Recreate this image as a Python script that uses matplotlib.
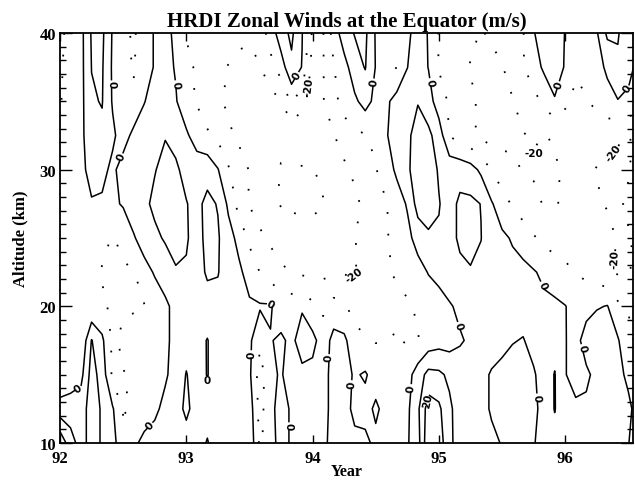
import numpy as np
import matplotlib
matplotlib.use("Agg")
import matplotlib.pyplot as plt
from matplotlib.ticker import FixedLocator, FixedFormatter, MultipleLocator

plt.rcParams['font.family'] = ['Liberation Serif', 'DejaVu Serif']
plt.rcParams['font.weight'] = 'bold'

# Monthly sampling in years (92.0 = Jan 1992) and 2.5 km altitude levels
years = 92 + np.arange(56) / 12.0
altitudes = [10.0, 12.5, 15.0, 17.5, 20.0, 22.5, 25.0, 27.5, 30.0, 32.5, 35.0, 37.5, 40.0]

# Zonal wind (m/s), one list per altitude level
u_10_0 = [28, 14, 6, 14, 9, 3, -6, -1.5, 2, 3, 4, 4, 6, 3, -0.5, 4, 4, 4, 8, -12, -3, 3, -1, -3, -4, -2, 3, 3, 2, 2,
          -2, -4, -4, -1, 6, 28, 25, 13, 4, 3, 3, 2, -0.5, -4, -4, -0.5, 3, 6, 4, 3, 3, 4, 5, 5, 0.3, -5]
u_12_5 = [4, 5, 6, 14, 9, 1, -11, -9, -4, -1.5, 2, 6, 12, 6, 3, 5, 5, 4, 6, -14, -2, 3, -1, -4, -5, -3, 3, 3, -2, -3,
          1.5, -3, -3, -2, 8, 25, 22, 12, 5, 4, 3, -1, -5, -5, -5, -2, 3, 10.5, 3, 2, 2, 4, 6, 6, 3, -6]
u_15_0 = [-8, -6, -3, 14, 6, -12, -10.5, -8, -5, -3, -1, 3, 10.5, 5, -0.5, 6, 6, 5, 2, -15, -2, 1, -5, -2, -3, -4, 4, 3,
          -1, 1, -4, -4, -5, -4, 5, 13, 12, 8, 5, 4, 3, -1, -4, -4, -4, -1, 4, 10.5, 0.5, -4, -2, 3, 6, 4, -3, -11]
u_17_5 = [-4, -5, -9, 10.5, 2, -12, -8, -6, -8, -6, -2, 3, 6, 4, -0.5, 6, 6, 5, 2, -8, -0.5, 1.5, -2, 4, 3, -5, 3, 2,
          -6, -9, -10.5, -10.5, -9, -11, -10.5, -6, -4, -4, -1, 1.5, 4, 5, 4, 0.5, -0.5, 3, 5, 6, 0.5, -4, 5, 8, 8, 1,
          -8, -12]
u_20_0 = [-3, -4, -6, -9, -9, -11, -11, -11, -10.5, -6, -2, 3, 6, 6, 7, 7, 6, 4, 1.5, 1, 1, -5, -4, -1, -8, -12, -6, -8,
          -15, -14, -13, -12, -12, -11, -9, -6, -4, -1, 2, 5, 6, 6, 5, 4, 4, 3, 2, 1.5, 0.3, -3, -4, -1, 0.5, -8, -10.5,
          -12]
u_22_5 = [-4, -5, -6, -8, -10.5, -11, -11, -10.5, -4, 1, 5, 9, 9.5, 7, 11, 10.5, 5, 2, -4, -10.2, -14, -18, -20.5, -22,
          -22, -22, -22, -21, -20.5, -17, -14, -11, -9, -7, -4, 0.5, 3, 6, 8, 9.5, 8, 5, 4, 3, 3, 0.8, -2, -4, -8, -10.5,
          -12, -15, -18, -21, -20.5, -18]
u_25_0 = [-4, -4, -5, -6, -8, -10.5, -8, -1, 5, 8, 11, 14, 10.5, 8, 11.5, 11, 4, -3, -12, -18, -22, -25, -27, -28, -28,
          -27, -25, -23, -20.5, -16, -12, -10.5, -8, -3, 4, 8, 9, 7, 11.5, 12, 10.2, 4, 2, -1, -5, -9, -13, -15, -14,
          -13, -13, -15, -18, -20.5, -20.5, -19]
u_27_5 = [-5, -4, -3, -1, -1.5, -2, 1, 6, 8, 12, 15, 14, 10.3, 8, 12, 9.5, -2, -14, -20.5, -25, -28, -30.5, -31, -31,
          -31, -30.5, -28, -25, -22, -18, -14, -10.5, -5, 1, 14, 16, 10.5, 6, 12, 12, 9.8, 1, -6, -11, -15, -18, -20.5,
          -20.5, -19, -18, -18, -19, -20.5, -21, -19, -17]
u_30_0 = [-7, -5, -3, 4, 3, -2.5, 5, 8, 9, 9.5, 13, 11, 8, 7, 7, 0.5, -9, -15, -20.5, -25, -28, -30.5, -30.5, -30.5,
          -30.5, -28, -25, -22, -18, -14, -10.5, -5, 2, 8, 16, 15, 9, 7, 6, 4, -2, -10.5, -15, -18, -20.5, -21, -22, -21,
          -19, -18, -18, -20.5, -21, -22, -20.5, -18]
u_32_5 = [-9, -6, -3, 8, 8, 2, -5, 3, 6, 8, 9.5, 8, 2, -6, -9, -12, -18, -22, -25, -27, -28, -28, -27, -26, -26, -24,
          -20.5, -15, -12, -10.5, -8, -1, 6, 8, 14, 12, 6, -10.5, -14, -18, -22, -24, -24, -22, -20.5, -19, -20.5, -19,
          -17, -15, -14, -15, -17, -19, -20.5, -18]
u_35_0 = [-10.5, -7, -3, 9, 10.5, -1, -8, -9, -0.5, 5, 6, 1, -8, -10.5, -14, -18, -22, -24, -25, -25, -24, -20.5, -8,
          -18, -23, -20.5, -13, -6, -2, 4, -3, -2, 4, 6, 9.5, 5, -6, -11, -15, -18, -22, -23, -22, -20.5, -16, -13, -8,
          -0.5, -8, -12, -10.5, -8, -3, -0.5, -2, -5]
u_37_5 = [-11, -7, -3, 10.2, 11, -1.5, -8, -10.5, -6, 1, 4, -1, -8, -11, -15, -17, -20.5, -22, -22, -20.5, -13, -5, 8,
          -0.5, -24, -20.5, -10.5, -4, 6, 10.5, -0.5, -9, -10.5, -0.2, 6, -0.3, -10.5, -14, -17, -20.5, -22, -22, -20.5,
          -16, -10.5, -5, 2, 3, -0.5, -9, -8, -3, 1.5, 8, 3, -3]
u_40_0 = [-12, -7, -3, 11, 12, -1, -8, -11, -6, 1, 4, -3, -10.5, -13, -14, -13, -15, -18, -19, -15, -6, 6, 12, 0.5, -22,
          -20.5, -6, 6, 10.5, 12, -1, -8, -8, -2, 4, -0.5, -10.5, -14, -16, -18, -20.5, -19, -16, -14, -10.5, -0.5, 4, 4,
          -0.3, -8, -6, -1, 12, 11, 3, -3]

wind = np.array([u_10_0, u_12_5, u_15_0, u_17_5, u_20_0, u_22_5, u_25_0,
                 u_27_5, u_30_0, u_32_5, u_35_0, u_37_5, u_40_0])

year_ticks = [92, 93, 94, 95, 96]
year_labels = ["92", "93", "94", "95", "96"]
alt_ticks = [10, 20, 30, 40]
alt_labels = ["10", "20", "30", "40"]

# where the contour labels sit (year, km)
zero_label_at = [(92.41, 36.27), (92.91, 36.27), (92.49, 30.93), (92.16, 13.81), (92.70, 11.40),
                 (93.13, 14.25), (93.53, 16.52), (93.68, 20.54), (93.82, 11.25), (93.90, 36.78),
                 (94.16, 16.23), (94.34, 14.32), (94.47, 36.42), (94.80, 14.03), (94.92, 36.42),
                 (95.17, 18.64), (95.78, 21.42), (95.79, 13.37), (95.98, 36.12), (96.09, 16.88),
                 (96.47, 36.12)]
minus20_label_at = [(94.02, 36.05), (94.35, 22.0), (95.82, 30.56), (96.38, 31.29), (96.38, 23.47)]
plus20_label_at = [(94.87, 13.23)]

fig = plt.figure(figsize=(6.35, 4.81), dpi=100)
ax = fig.add_axes([60 / 635, 1 - 444 / 481, 573 / 635, 410 / 481])

dots = (0, (1, 11))


def draw(levels, easterly):
    cs = ax.contour(years, altitudes, wind, levels=levels, colors='black',
                    linewidths=1.3 if easterly else 1.1,
                    linestyles='dotted' if easterly else 'solid')
    if easterly:
        cs.set_linestyle(dots)
    return cs


cs_m30_m10 = draw([-30, -10], True)
cs_m20 = draw([-20], True)
cs_0 = draw([0], False)
cs_10 = draw([10], False)
cs_20 = draw([20], False)

lab = []
for cs, pts in ((cs_0, zero_label_at), (cs_20, plus20_label_at), (cs_m20, minus20_label_at)):
    lab += cs.clabel(manual=pts, fmt='%d', fontsize=7.5, inline=True, inline_spacing=1)
for t in lab:
    t.set_fontweight('bold')
    t.set_family(['DejaVu Sans'])

ax.set_xlim(92, 92 + 573 / 126.3)
ax.set_ylim(10, 40)
ax.xaxis.set_major_locator(FixedLocator(year_ticks))
ax.xaxis.set_major_formatter(FixedFormatter(year_labels))
ax.yaxis.set_major_locator(FixedLocator(alt_ticks))
ax.yaxis.set_major_formatter(FixedFormatter(alt_labels))
ax.yaxis.set_minor_locator(MultipleLocator(1))

ax.tick_params(axis='both', which='both', direction='in', top=True, right=True,
               colors='black', width=1.0)
ax.tick_params(axis='x', which='major', length=6, pad=5, labelsize=12)
ax.tick_params(axis='y', which='major', length=8.3, pad=3, labelsize=12)
ax.tick_params(axis='y', which='minor', length=4.1)
for lbl in ax.get_xticklabels() + ax.get_yticklabels():
    lbl.set_fontweight('bold')
for s in ax.spines.values():
    s.set_linewidth(1.3)

ax.set_title('HRDI Zonal Winds at the Equator (m/s)', fontsize=15, fontweight='bold', pad=5)
ax.set_xlabel('Year', fontsize=11.5, fontweight='bold', labelpad=-2)
ax.set_ylabel('Altitude (km)', fontsize=12, fontweight='bold', labelpad=8)

fig.savefig('out.png', dpi=100)
